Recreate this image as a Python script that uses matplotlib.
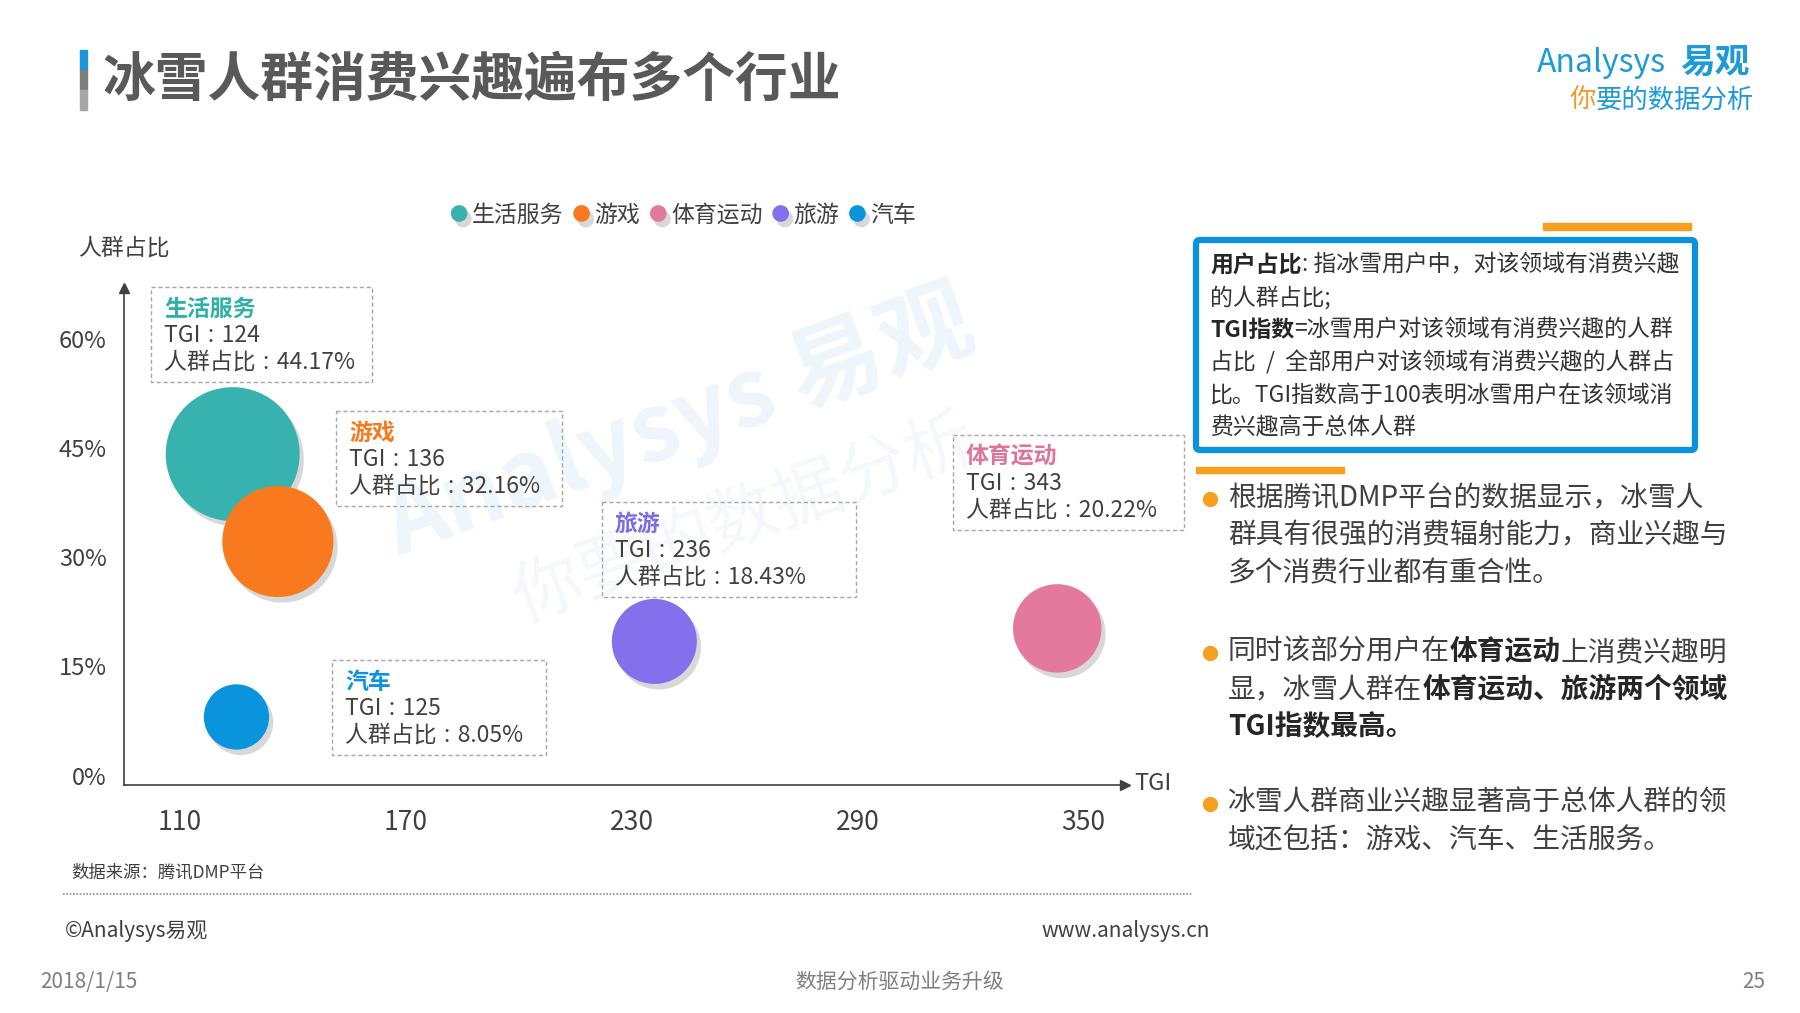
import matplotlib
matplotlib.use("Agg")
import matplotlib.pyplot as plt
import matplotlib.patheffects as pe
from matplotlib.patches import Rectangle, FancyBboxPatch
from matplotlib.lines import Line2D

plt.rcParams['font.family'] = ['Noto Sans CJK SC', 'DejaVu Sans']

# data
categories = ['生活服务', '游戏', '体育运动', '旅游', '汽车']
tgi = [124, 136, 343, 236, 125]
share = [44.17, 32.16, 20.22, 18.43, 8.05]
x_ticks = [110, 170, 230, 290, 350]
y_ticks = [0, 15, 30, 45, 60]

colors = ['#38B2AE', '#F97A1E', '#E37A9E', '#8470EC', '#0A94DE']
title_colors = ['#2FB0A8', '#F7791C', '#E0739A', '#7D6BE8', '#0A94DE']
# label boxes on the 1800x1013 canvas: left, top, width
boxes = [(151, 287, 221), (336, 411, 226), (953, 435, 231), (602, 502, 254), (332, 660, 214)]

W, H = 1800, 1013
fig = plt.figure(figsize=(W / 100, H / 100), dpi=100)

# background layer in pixel coordinates
bg = fig.add_axes([0, 0, 1, 1])
bg.set_xlim(0, W)
bg.set_ylim(H, 0)
bg.axis('off')

dark = '#404040'
colon = '\u2004:\u2004'

# watermark
bg.text(680, 425, 'Analysys 易观', rotation=20, fontsize=68, fontweight='bold',
        color='#EEF5FB', ha='center', va='center', zorder=0)
bg.text(745, 520, '你要的数据分析', rotation=20, fontsize=50,
        color='#F4F8FC', ha='center', va='center', zorder=0)

# title
bg.add_patch(Rectangle((80, 50), 7, 20, color='#1A95DB'))
bg.add_patch(Rectangle((80, 70), 7, 20, color='#7F7F7F'))
bg.add_patch(Rectangle((80, 90), 7, 20, color='#A6A6A6'))
bg.text(102, 80, '冰雪人群消费兴趣遍布多个行业', fontsize=38, fontweight='bold',
        color='#595959', va='center')

# logo
bg.text(1537, 63, 'Analysys', fontsize=23, color='#1E9BD7', va='center')
bg.text(1680, 62, '易观', fontsize=25, fontweight='bold', color='#1E9BD7', va='center')
bg.text(1570, 100, '你', fontsize=19, color='#F39A2B', va='center')
bg.text(1596, 100, '要的数据分析', fontsize=19, color='#1E9BD7', va='center')

# main chart
ax = fig.add_axes([123.5 / W, 1 - 785 / H, (1125 - 123.5) / W, (785 - 288) / H])
ax.patch.set_visible(False)
ax.set_xlim(95, 361)
ax.set_ylim(-1.3, 67)

diam = [50 + 1.9 * v for v in share]
sizes = [(d * 72 / fig.dpi) ** 2 for d in diam]
shadow = [pe.SimplePatchShadow(offset=(3, -4), shadow_rgbFace='#808080', alpha=0.3), pe.Normal()]
ax.scatter(tgi, share, s=sizes, c=colors, edgecolors='none', zorder=3, clip_on=False,
           path_effects=shadow)

for s in ['top', 'right']:
    ax.spines[s].set_visible(False)
for s in ['left', 'bottom']:
    ax.spines[s].set_color(dark)
    ax.spines[s].set_linewidth(1.2)
ax.plot(1, 0, '>', color=dark, ms=7, transform=ax.transAxes, clip_on=False)
ax.plot(0, 1, '^', color=dark, ms=7, transform=ax.transAxes, clip_on=False)

ax.set_xticks(x_ticks)
ax.set_xticklabels([str(v) for v in x_ticks])
ax.set_yticks(y_ticks)
ax.set_yticklabels([f'{v}%' for v in y_ticks])
ax.tick_params(axis='x', length=0, pad=17, labelsize=19, labelcolor=dark)
ax.tick_params(axis='y', length=0, pad=12, labelsize=17, labelcolor=dark)

bg.text(78, 248, '人群占比', fontsize=16.5, color=dark, va='center')
bg.text(1134, 783, 'TGI', fontsize=17, color=dark, va='center')

handles = [Line2D([], [], ls='none', marker='o', ms=12, mfc=c, mec='none',
                  path_effects=shadow) for c in colors]
leg = ax.legend(handles, categories, loc='center', bbox_to_anchor=(684 / W, 1 - 215 / H),
                bbox_transform=fig.transFigure, ncol=5, frameon=False, fontsize=16.5,
                handlelength=0.6, handletextpad=0.25, columnspacing=0.5, borderaxespad=0)
for t in leg.get_texts():
    t.set_color(dark)

# dashed label boxes
for i, cat in enumerate(categories):
    left, top, width = boxes[i]
    bg.add_patch(Rectangle((left, top), width, 95, fill=False, ec='#A6A6A6', lw=1,
                           ls=(0, (3, 2))))
    bg.text(left + 13, top + 22, cat, color=title_colors[i], fontsize=16.5,
            fontweight='bold', va='center')
    bg.text(left + 13, top + 48, f'TGI{colon}{tgi[i]}', color=dark, fontsize=16.5,
            va='center')
    bg.text(left + 13, top + 75, f'人群占比{colon}{share[i]:.2f}%', color=dark,
            fontsize=16.5, va='center')


def runs(x, y, parts, size, color=dark, bold_color='#262626'):
    prev = None
    for text, bold in parts:
        kw = dict(fontsize=size, color=bold_color if bold else color,
                  fontweight='bold' if bold else 'normal', va='center', ha='left')
        if prev is None:
            prev = bg.text(x, y, text, **kw)
        else:
            prev = bg.annotate(text, xy=(1, 0.5), xycoords=prev, **kw)


# definition box
bg.add_patch(Rectangle((1543, 223), 148, 7, color='#F5A01E'))
bg.add_patch(FancyBboxPatch((1196, 240), 499, 210, boxstyle='round,pad=0,rounding_size=4',
                            fill=False, ec='#0A93DC', lw=4.5))
bg.add_patch(Rectangle((1196, 467), 148, 6, color='#F5A01E'))

info = [
    [('用户占比', True), (': 指冰雪用户中，对该领域有消费兴趣', False)],
    [('的人群占比;', False)],
    [('TGI指数', True), ('=冰雪用户对该领域有消费兴趣的人群', False)],
    [('占比  /  全部用户对该领域有消费兴趣的人群占', False)],
    [('比。TGI指数高于100表明冰雪用户在该领域消', False)],
    [('费兴趣高于总体人群', False)],
]
for j, line in enumerate(info):
    runs(1210, 265 + j * 32.6, line, 16.5, color='#333333', bold_color='#262626')

# bullet points
bullets = [
    (498, [[('根据腾讯DMP平台的数据显示，冰雪人', False)],
           [('群具有很强的消费辐射能力，商业兴趣与', False)],
           [('多个消费行业都有重合性。', False)]]),
    (652, [[('同时该部分用户在', False), ('体育运动', True), ('上消费兴趣明', False)],
           [('显，冰雪人群在', False), ('体育运动、旅游两个领域', True)],
           [('TGI指数最高。', True)]]),
    (803, [[('冰雪人群商业兴趣显著高于总体人群的领', False)],
           [('域还包括：游戏、汽车、生活服务。', False)]]),
]
for y0, lines in bullets:
    bg.plot(1210, y0 + 1, 'o', color='#F5A01E', ms=10)
    for j, line in enumerate(lines):
        runs(1228, y0 + j * 37.5, line, 20)

# footer
bg.text(71, 872, '数据来源：腾讯DMP平台', fontsize=12.5, color=dark, va='center')
bg.plot([63, 1193], [894, 894], color='#8C8C8C', lw=1.2, ls=(0, (1, 1)))
bg.text(65, 931, '©Analysys易观', fontsize=15, color=dark, va='center')
bg.text(1210, 931, 'www.analysys.cn', fontsize=15, color=dark, va='center', ha='right')
bg.text(40, 982, '2018/1/15', fontsize=15, color='#7F7F7F', va='center')
bg.text(900, 982, '数据分析驱动业务升级', fontsize=15, color='#7F7F7F', va='center', ha='center')
bg.text(1765, 982, '25', fontsize=15, color='#7F7F7F', va='center', ha='right')

fig.savefig('out.png', dpi=100)
